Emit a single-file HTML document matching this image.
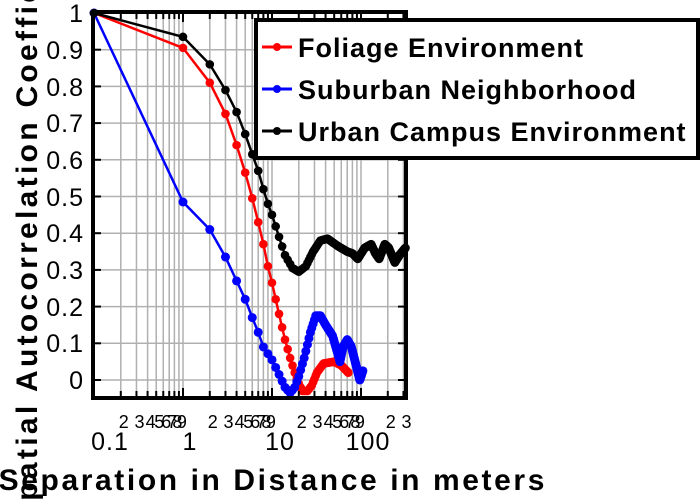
<!DOCTYPE html>
<html><head><meta charset="utf-8"><style>
html,body{margin:0;padding:0;background:#fff;}
svg{display:block;font-family:"Liberation Sans",sans-serif;}
</style></head><body>
<svg id="s" width="700" height="500" viewBox="0 0 700 500" xmlns="http://www.w3.org/2000/svg">
<rect width="700" height="500" fill="#fff"/>
<g id="grid"></g>
<g id="series"></g>
<rect x="93" y="12" width="313" height="386" fill="none" stroke="#000" stroke-width="4"/>
<g id="ticks"></g>
<g font-size="25" text-anchor="end" fill="#000" letter-spacing="1">
<text x="84" y="22">1</text><text x="84" y="59">0.9</text><text x="84" y="96">0.8</text>
<text x="84" y="132">0.7</text><text x="84" y="169">0.6</text><text x="84" y="206">0.5</text>
<text x="84" y="242">0.4</text><text x="84" y="279">0.3</text><text x="84" y="316">0.2</text>
<text x="84" y="352">0.1</text><text x="84" y="389">0</text>
</g>
<g font-size="25" text-anchor="middle" letter-spacing="1">
<text x="110" y="450">0.1</text><text x="190" y="450">1</text><text x="280" y="450">10</text><text x="368" y="450">100</text>
</g>
<g id="xl" font-size="18" text-anchor="middle"></g>
<text x="547" y="490" font-size="30" font-weight="bold" text-anchor="end" letter-spacing="2.6">Separation in Distance in meters</text>
<text transform="translate(37,524) rotate(-90)" font-size="30" font-weight="bold" letter-spacing="3.3">Spatial Autocorrelation Coefficient</text>
<rect x="256" y="20" width="442" height="138" fill="#fff" stroke="#000" stroke-width="4"/>
<g stroke-width="3">
<line x1="262" y1="47" x2="292" y2="47" stroke="#f00"/><circle cx="277" cy="47" r="4" fill="#f00"/>
<line x1="262" y1="89" x2="292" y2="89" stroke="#00f"/><circle cx="277" cy="89" r="4" fill="#00f"/>
<line x1="262" y1="131" x2="292" y2="131" stroke="#000"/><circle cx="277" cy="131" r="4" fill="#000"/>
</g>
<g font-size="27" font-weight="bold" letter-spacing="1">
<text x="298" y="57">Foliage Environment</text>
<text x="298" y="99">Suburban Neighborhood</text>
<text x="298" y="141">Urban Campus Environment</text>
</g>
</svg>
<script>
var NS="http://www.w3.org/2000/svg";
function X(d){return 94+89*(Math.log10(d)+1);}
function Y(v){return 380-v*367;}
function el(p,t,a,txt){var e=document.createElementNS(NS,t);for(var k in a)e.setAttribute(k,a[k]);if(txt)e.textContent=txt;p.appendChild(e);return e;}
var g=document.getElementById('grid'),tk=document.getElementById('ticks'),xl=document.getElementById('xl');
for(var i=0;i<=10;i++){var y=Y(i/10);el(g,'line',{x1:93,x2:406,y1:y,y2:y,stroke:'#b0b0b0','stroke-width':1.5});
el(tk,'line',{x1:93,x2:101,y1:y,y2:y,stroke:'#000','stroke-width':2});el(tk,'line',{x1:398,x2:406,y1:y,y2:y,stroke:'#000','stroke-width':2});}
[0.1,1,10,100].forEach(function(b){for(var m=1;m<=9;m++){var d=b*m,x=X(d);if(x>406)break;
el(g,'line',{x1:x,x2:x,y1:12,y2:398,stroke:'#b0b0b0','stroke-width':1.5});
var L=(m==1)?10:7;el(tk,'line',{x1:x,x2:x,y1:398,y2:398-L,stroke:'#000','stroke-width':2});el(tk,'line',{x1:x,x2:x,y1:12,y2:12+L,stroke:'#000','stroke-width':2});
if(m>1)el(xl,'text',{x:x+3,y:428},String(m));}});
function interp(a,d){var l=Math.log10(d);for(var i=0;i<a.length-1;i++){var l0=Math.log10(a[i][0]),l1=Math.log10(a[i+1][0]);if(l>=l0&&l<=l1){var t=(l-l0)/(l1-l0);return a[i][1]+t*(a[i+1][1]-a[i][1]);}}return a[a.length-1][1];}
var red=[[0.1,1],[1,0.905],[2,0.81],[3,0.725],[4,0.64],[5,0.565],[6,0.495],[7,0.43],[8,0.37],[9,0.31],[10,0.265],[11,0.22],[12,0.18],[14,0.11],[16,0.06],[18,0.02],[20,-0.01],[22,-0.03],[25,-0.03],[28,-0.015],[32,0.02],[38,0.045],[50,0.05],[60,0.04],[72,0.02]];
var blue=[[0.1,1],[1,0.485],[2,0.41],[3,0.335],[4,0.27],[5,0.22],[6,0.17],[7,0.13],[8,0.09],[10,0.055],[12,0.015],[14,-0.02],[16,-0.035],[18,-0.02],[20,0.01],[23,0.06],[27,0.13],[31,0.175],[35,0.175],[40,0.15],[48,0.12],[55,0.07],[58,0.05],[63,0.09],[70,0.11],[78,0.09],[88,0.04],[97,0.0],[105,0.025]];
var blk=[[0.1,1],[1,0.935],[2,0.86],[3,0.79],[4,0.73],[5,0.67],[6,0.615],[7,0.57],[8,0.52],[9,0.48],[10,0.45],[12,0.39],[14,0.34],[17,0.305],[20,0.295],[24,0.31],[29,0.35],[35,0.38],[42,0.385],[55,0.365],[70,0.35],[80,0.345],[92,0.33],[110,0.36],[130,0.37],[145,0.345],[160,0.33],[185,0.37],[205,0.36],[240,0.32],[270,0.34],[316,0.36]];
var sg=document.getElementById('series');
function draw(a,max,c,r){var pts=[[0.1,1]];for(var d=1;d<=max;d++)pts.push([d,interp(a,d)]);
var s=pts.map(function(p){return X(p[0]).toFixed(1)+','+Y(p[1]).toFixed(1);}).join(' ');
el(sg,'polyline',{points:s,fill:'none',stroke:c,'stroke-width':2.5});
pts.forEach(function(p){el(sg,'circle',{cx:X(p[0]),cy:Y(p[1]),r:r,fill:c});});}
draw(red,72,'#f00',4.3);draw(blue,105,'#00f',4.5);draw(blk,316,'#000',4.3);
</script>
</body></html>
